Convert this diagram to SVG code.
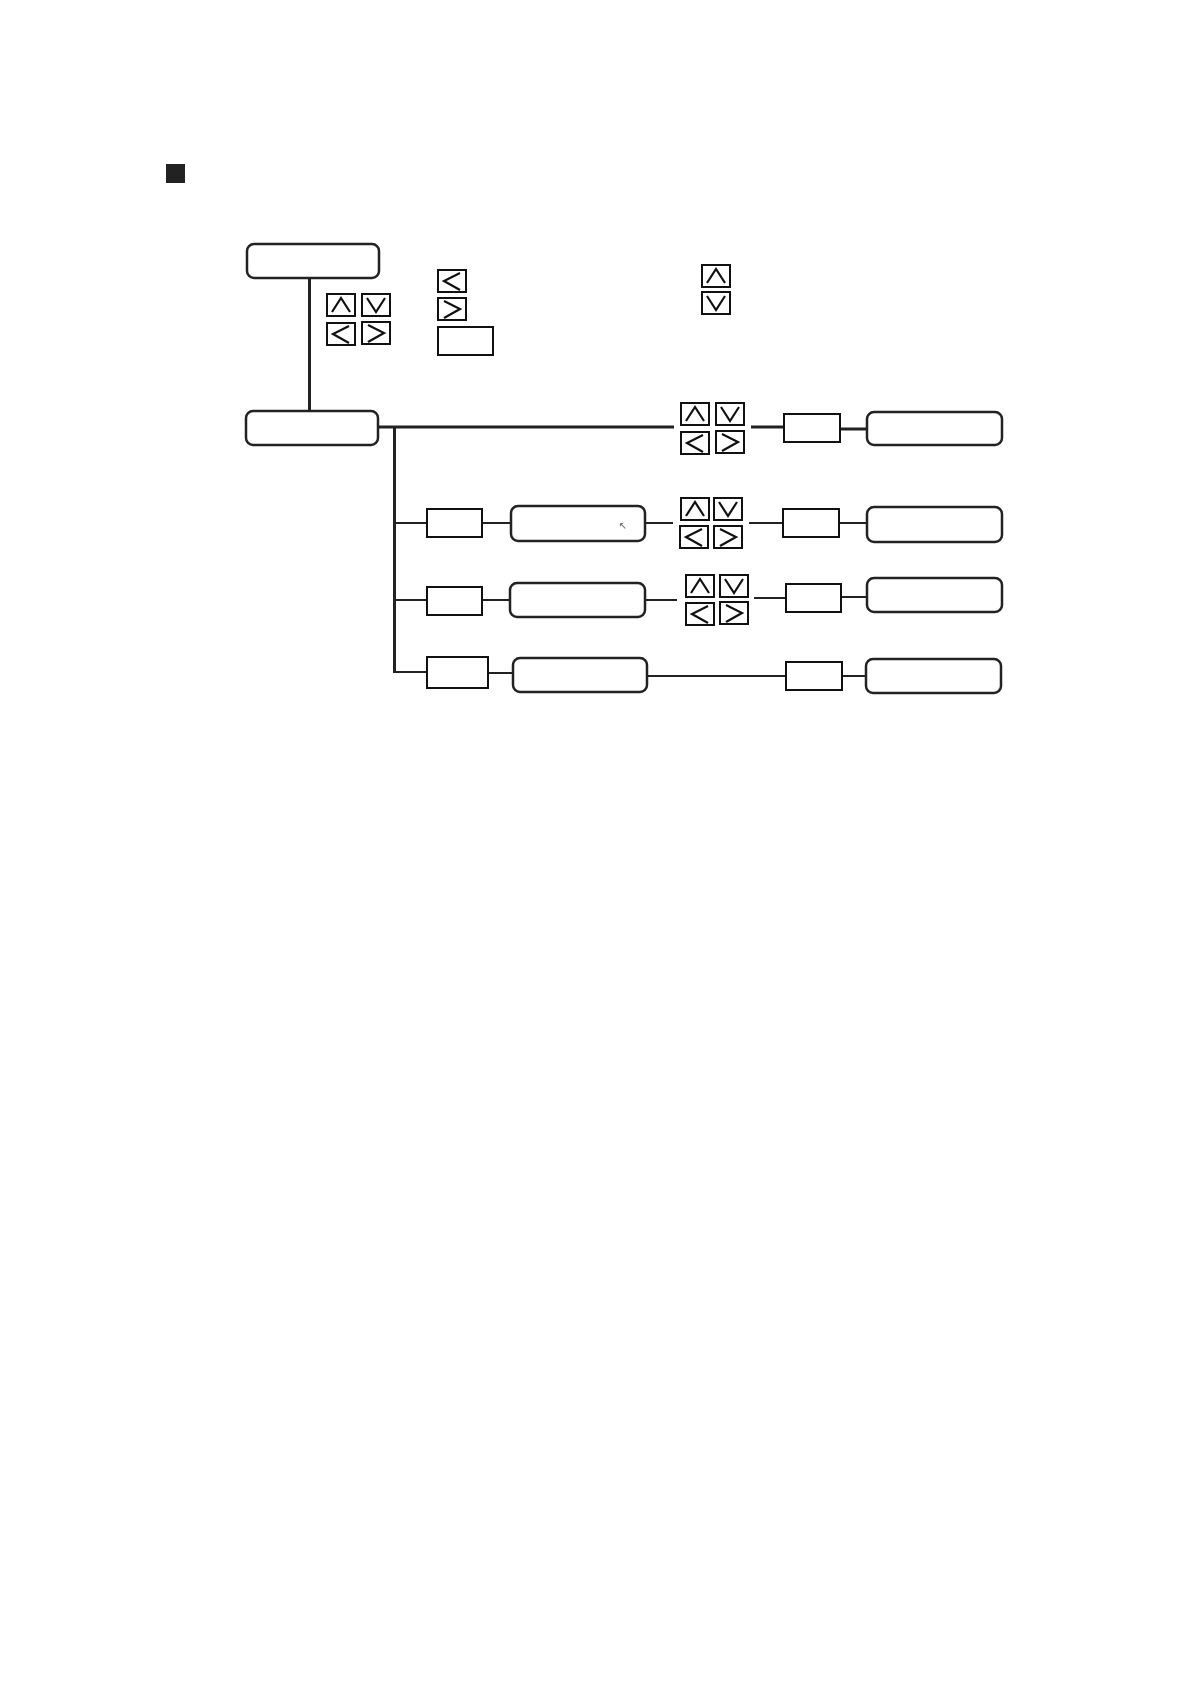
<svg xmlns="http://www.w3.org/2000/svg" xmlns:xlink="http://www.w3.org/1999/xlink" width="1190" height="1684" viewBox="0 0 1190 1684">
<style>
.rb{fill:#fff;stroke:#222;stroke-width:2.5}
.bx{fill:#fff;stroke:#111;stroke-width:2}
.btn rect{fill:#fff;stroke:#111;stroke-width:2}
.btn polyline{fill:none;stroke:#111;stroke-width:2.2}
.c3{stroke:#222;stroke-width:3;fill:none}
.c2{stroke:#222;stroke-width:2;fill:none}
</style>
<defs>
<g id="bU" class="btn"><rect x="0" y="0" width="28" height="22"/><polyline points="5,18 14,4 23,18"/></g>
<g id="bD" class="btn"><rect x="0" y="0" width="28" height="22"/><polyline points="5,4 14,18 23,4"/></g>
<g id="bL" class="btn"><rect x="0" y="0" width="28" height="22"/><polyline points="22,3 6,11 22,20"/></g>
<g id="bR" class="btn"><rect x="0" y="0" width="28" height="22"/><polyline points="6,3 22,11 6,20"/></g>
</defs>
<rect width="1190" height="1684" fill="#fff"/>
<rect id="title-mark" x="166" y="164" width="19" height="19" fill="#222"/>

<g id="connectors">
<line class="c3" x1="309.5" y1="278" x2="309.5" y2="411"/>
<line class="c3" x1="378" y1="427" x2="674" y2="427"/>
<line class="c3" x1="751" y1="427" x2="784" y2="427"/>
<line class="c3" x1="840" y1="429" x2="867" y2="429"/>
<line class="c3" x1="394.5" y1="427" x2="394.5" y2="673"/>
<line class="c2" x1="394" y1="523" x2="427" y2="523"/>
<line class="c2" x1="482" y1="523" x2="511" y2="523"/>
<line class="c2" x1="645" y1="523" x2="673" y2="523"/>
<line class="c2" x1="749" y1="523" x2="783" y2="523"/>
<line class="c2" x1="839" y1="523" x2="867" y2="523"/>
<line class="c2" x1="394" y1="600" x2="427" y2="600"/>
<line class="c2" x1="482" y1="600" x2="510" y2="600"/>
<line class="c2" x1="645" y1="600" x2="677" y2="600"/>
<line class="c2" x1="754" y1="598" x2="786" y2="598"/>
<line class="c2" x1="841" y1="597" x2="867" y2="597"/>
<line class="c2" x1="394" y1="672" x2="427" y2="672"/>
<line class="c2" x1="488" y1="673" x2="513" y2="673"/>
<line class="c2" x1="647" y1="676" x2="786" y2="676"/>
<line class="c2" x1="842" y1="676" x2="866" y2="676"/>
</g>

<g id="top-box"><rect class="rb" x="247" y="244" width="132" height="34" rx="7"/></g>
<g id="main-box"><rect class="rb" x="246" y="411" width="132" height="34" rx="7"/></g>

<g id="key-arrows">
<use xlink:href="#bU" x="327" y="294"/><use xlink:href="#bD" x="362" y="294"/>
<use xlink:href="#bL" x="327" y="323"/><use xlink:href="#bR" x="362" y="322"/>
</g>
<g id="legend-left">
<use xlink:href="#bL" x="438" y="270"/>
<use xlink:href="#bR" x="438" y="298"/>
<rect class="bx" x="438" y="327" width="55" height="28"/>
</g>
<g id="legend-right">
<use xlink:href="#bU" x="702" y="265"/>
<use xlink:href="#bD" x="702" y="292"/>
</g>

<g id="row1">
<use xlink:href="#bU" x="681" y="403"/><use xlink:href="#bD" x="716" y="403"/>
<use xlink:href="#bL" x="681" y="432"/><use xlink:href="#bR" x="716" y="431"/>
<rect class="bx" x="784" y="414" width="56" height="28"/>
<rect class="rb" x="867" y="412" width="135" height="33" rx="7"/>
</g>

<g id="row2">
<rect class="bx" x="427" y="509" width="55" height="28"/>
<rect class="rb" x="511" y="506" width="134" height="35" rx="7"/>
<text x="623" y="529" font-family="DejaVu Sans, sans-serif" font-size="10" fill="#555" text-anchor="middle">↖</text>
<use xlink:href="#bU" x="681" y="498"/><use xlink:href="#bD" x="714" y="498"/>
<use xlink:href="#bL" x="680" y="526"/><use xlink:href="#bR" x="714" y="526"/>
<rect class="bx" x="783" y="509" width="56" height="28"/>
<rect class="rb" x="867" y="507" width="135" height="35" rx="7"/>
</g>

<g id="row3">
<rect class="bx" x="427" y="587" width="55" height="28"/>
<rect class="rb" x="510" y="583" width="135" height="34" rx="7"/>
<use xlink:href="#bU" x="686" y="575"/><use xlink:href="#bD" x="720" y="575"/>
<use xlink:href="#bL" x="686" y="603"/><use xlink:href="#bR" x="720" y="602"/>
<rect class="bx" x="786" y="584" width="55" height="28"/>
<rect class="rb" x="867" y="578" width="135" height="34" rx="7"/>
</g>

<g id="row4">
<rect class="bx" x="427" y="657" width="61" height="31"/>
<rect class="rb" x="513" y="658" width="134" height="34" rx="7"/>
<rect class="bx" x="786" y="662" width="56" height="28"/>
<rect class="rb" x="866" y="659" width="135" height="34" rx="7"/>
</g>
</svg>
